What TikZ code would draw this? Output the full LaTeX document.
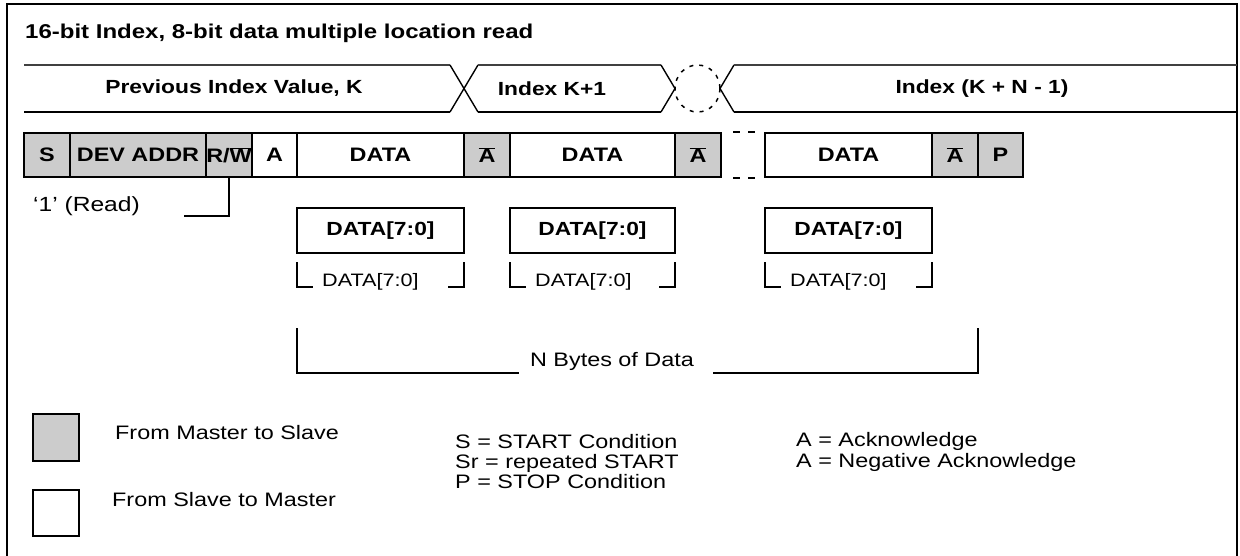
\documentclass[tikz,border=0pt]{standalone}
\usepackage{fontspec}
\setmainfont{Liberation Sans}[FakeStretch=1.2]
\definecolor{cellgrey}{RGB}{204,204,204}
\newcommand{\ovl}[1]{\ensuremath{\overline{\mbox{#1}}}}
\begin{document}
\begin{tikzpicture}[x=1pt,y=-1pt,
  cell/.style={draw, line width=2.2pt, minimum height=44pt, inner sep=0pt, font=\fontsize{19.5}{22}\selectfont\bfseries},
  mcell/.style={cell, fill=cellgrey},
  scell/.style={cell, fill=white},
  bytebox/.style={draw, line width=2.2pt, minimum height=45pt, inner sep=0pt, font=\fontsize{19}{21}\selectfont\bfseries},
  brtext/.style={font=\fontsize{18}{20}\selectfont, inner sep=0pt, anchor=base west},
  lbl/.style={font=\fontsize{19.5}{21}\selectfont, inner sep=0pt, anchor=base west},
  bandlbl/.style={font=\fontsize{19}{21}\selectfont\bfseries, inner sep=0pt},
  bandtop/.style={line width=1.4pt, black!75},
  banddiag/.style={line width=1.4pt},
  bandbot/.style={line width=2.2pt},
  wire/.style={line width=2pt},
  gapdash/.style={line width=2.2pt, dash pattern=on 0pt off 11pt on 7pt off 8pt on 7pt off 40pt},
  ovaldash/.style={line width=1.5pt, dash pattern=on 4pt off 6pt},
]
\useasboundingbox (0,0) rectangle (1240,555);
% frame
\draw[line width=2.3pt] (7,575) -- (7,4) -- (1237,4) -- (1237,575);
% title
\node[anchor=base west, inner sep=0pt, font=\fontsize{20}{24}\selectfont\bfseries] (title) at (25,38) {16-bit Index, 8-bit data multiple location read};
% index band
\draw[bandtop] (24,65) -- (450,65);
\draw[bandbot] (24,112) -- (450,112);
\draw[banddiag] (450,65) -- (478,112);
\draw[banddiag] (450,112) -- (478,65);
\draw[bandtop] (478,65) -- (661,65);
\draw[bandbot] (478,112) -- (661,112);
\draw[banddiag] (661,65) -- (675,88.5) -- (661,112);
\draw[ovaldash] (697.5,88.5) ellipse [x radius=22.5, y radius=23.5];
\draw[banddiag] (734,65) -- (720,88.5) -- (734,112);
\draw[bandtop] (734,65) -- (1237,65);
\draw[bandbot] (734,112) -- (1237,112);
\node[bandlbl] (idxk) at (234,88.5) {Previous Index Value, K};
\node[bandlbl] (idxk1) at (552,88.5) {Index K+1};
\node[bandlbl] (idxkn) at (982,88.5) {Index (K + N - 1)};
% transaction row
\node[mcell, minimum width=46pt] (s) at (47,155) {S};
\node[mcell, minimum width=136pt] (dev) at (138,155) {DEV ADDR};
\node[mcell, minimum width=46pt] (rw) at (229,155) {R/\ovl{W}};
\node[scell, minimum width=45pt] (ack) at (274.5,155) {A};
\node[scell, minimum width=167pt] (d1) at (380.5,155) {DATA};
\node[mcell, minimum width=46pt] (na1) at (487,155) {\ovl{A}};
\node[scell, minimum width=165pt] (d2) at (592.5,155) {DATA};
\node[mcell, minimum width=46pt] (na2) at (698,155) {\ovl{A}};
\node[scell, minimum width=167pt] (d3) at (848.5,155) {DATA};
\node[mcell, minimum width=46pt] (na3) at (955,155) {\ovl{A}};
\node[mcell, minimum width=45pt] (p) at (1000.5,155) {P};
\draw[gapdash] (na2.north east) -- (d3.north west);
\draw[gapdash] (na2.south east) -- (d3.south west);
% read bit note
\node[lbl, font=\fontsize{20.5}{22}\selectfont] (rd) at (33,211) {`1' (Read)};
\coordinate (rdend) at (184,215.5);
\draw[wire] (rw.south) |- (rdend);
% data byte boxes
\node[bytebox, minimum width=167pt] (b1) at (380.5,230.5) {DATA[7:0]};
\node[bytebox, minimum width=165pt] (b2) at (592.5,230.5) {DATA[7:0]};
\node[bytebox, minimum width=167pt] (b3) at (848.5,230.5) {DATA[7:0]};
% small brackets
\foreach \n/\l/\r in {1/297/464, 2/510/675, 3/765/932}{
  \node[brtext] (bt\n) at ({\l+25},286) {DATA[7:0]};
  \coordinate (btl\n) at (\l,262);
  \coordinate (btlx\n) at ({\l+16},287);
  \coordinate (btr\n) at (\r,262);
  \coordinate (btrx\n) at ({\r-16},287);
  \draw[wire] (btl\n) |- (btlx\n);
  \draw[wire] (btr\n) |- (btrx\n);
}
% N bytes bracket
\node[font=\fontsize{19.5}{21}\selectfont, inner sep=0pt, anchor=base] (nb) at (612,366.5) {N Bytes of Data};
\coordinate (nbl) at (297,328);
\coordinate (nbr) at (978,328);
\draw[wire] (nbl) |- ([xshift=-11pt,yshift=-6.5pt]nb.base west);
\draw[wire] (nbr) |- ([xshift=19pt,yshift=-6.5pt]nb.base east);
% legend
\node[draw, line width=2.2pt, fill=cellgrey, minimum width=46pt, minimum height=47pt, inner sep=0pt] (lgm) at (56,437.5) {};
\node[draw, line width=2.2pt, fill=white, minimum width=46pt, minimum height=46pt, inner sep=0pt] (lgs) at (56,513) {};
\node[lbl] (lm) at (115,439) {From Master to Slave};
\node[lbl] (ls) at (112,506) {From Slave to Master};
\node[lbl] (c1) at (455,448.5) {S = START Condition};
\node[lbl] (c2) at (455,468.3) {Sr = repeated START};
\node[lbl] (c3) at (455,488.3) {P = STOP Condition};
\node[lbl] (a1) at (796,446) {A = Acknowledge};
\node[lbl] (a2) at (796,467) {A = Negative Acknowledge};
\end{tikzpicture}
\end{document}
